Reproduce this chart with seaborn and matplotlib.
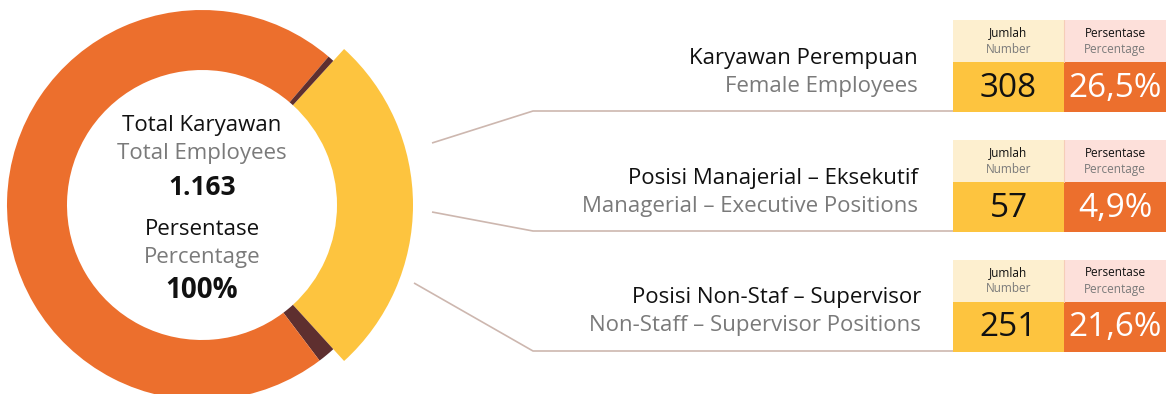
import matplotlib
matplotlib.use("Agg")
import matplotlib.pyplot as plt
from matplotlib.patches import Rectangle
import seaborn as sns

# ---------------- data ----------------
total_value = "1.163"
total_percent = "100%"
ring_names = ["Karyawan Perempuan", "Lainnya (bawah)", "Lainnya", "Lainnya (atas)"]
ring_values = [308, 17, 832, 6]
ring_colors = ["#FDC43F", "#5E2F2F", "#EC6F2D", "#5E2F2F"]

cat_id = ["Karyawan Perempuan", "Posisi Manajerial – Eksekutif", "Posisi Non-Staf – Supervisor"]
cat_en = ["Female Employees", "Managerial – Executive Positions", "Non-Staff – Supervisor Positions"]
counts = [308, 57, 251]
percents = ["26,5%", "4,9%", "21,6%"]

# ---------------- style ----------------
sns.set_theme(style="white")
plt.rcParams['font.family'] = ['Open Sans', 'DejaVu Sans']

BLACK = "#111111"
GRAY = "#7A7A7A"
YELLOW = "#FDC43F"
ORANGE = "#EC6F2D"
HEAD_Y = "#FDEFCF"
HEAD_P = "#FDE0DA"
LINE = "#CDB7AF"
FW = 500

fig = plt.figure(figsize=(11.66, 3.94), dpi=100)
ax = fig.add_axes([0, 0, 1, 1])

# ---------------- donut ----------------
cx, cy = 202, 205
R, W = 195, 60
start = -ring_values[0] / sum(ring_values) * 360 / 2
wedges, _ = ax.pie(ring_values, colors=ring_colors, startangle=start,
                   counterclock=True, radius=R, center=(cx, cy),
                   wedgeprops=dict(width=W, linewidth=0), frame=True)
wedges[0].set_radius(211)
wedges[0].set_width(211 - (R - W))

ax.set_xlim(0, 1166)
ax.set_ylim(394, 0)
ax.set_aspect('equal')
ax.axis('off')

# centre text
ax.text(cx, 125, "Total Karyawan", ha='center', va='center', fontsize=16, color=BLACK, fontweight=FW)
ax.text(cx, 153, "Total Employees", ha='center', va='center', fontsize=16, color=GRAY, fontweight=FW)
ax.text(cx, 187, total_value, ha='center', va='center', fontsize=19, color=BLACK, fontweight='bold')
ax.text(cx, 229, "Persentase", ha='center', va='center', fontsize=16, color=BLACK, fontweight=FW)
ax.text(cx, 258, "Percentage", ha='center', va='center', fontsize=16, color=GRAY, fontweight=FW)
ax.text(cx, 291, total_percent, ha='center', va='center', fontsize=20, color=BLACK, fontweight='bold')

# ---------------- right side ----------------
row_top = [20, 140, 260]
label_right = [918, 918, 921]
line_start = [(432, 143), (432, 212), (414, 283)]
kink_x = 533
tx0, tx1, tx2 = 953, 1064, 1166
head_h, val_h = 42, 50

for i in range(3):
    top = row_top[i]
    ax.text(label_right[i], top + 38, cat_id[i], ha='right', va='center', fontsize=16, color=BLACK, fontweight=FW)
    ax.text(label_right[i], top + 66, cat_en[i], ha='right', va='center', fontsize=16, color=GRAY, fontweight=FW)
    yline = top + head_h + val_h - 1
    sx, sy = line_start[i]
    ax.plot([sx, kink_x, tx0], [sy, yline, yline], color=LINE, lw=1.2, solid_capstyle='butt')
    # header cells
    ax.add_patch(Rectangle((tx0, top), tx1 - tx0, head_h, color=HEAD_Y, lw=0))
    ax.add_patch(Rectangle((tx1, top), tx2 - tx1, head_h, color=HEAD_P, lw=0))
    ax.plot([tx1, tx1], [top, top + head_h], color="#F6CDB8", lw=0.8)
    ax.text((tx0 + tx1) / 2, top + 13, "Jumlah", ha='center', va='center', fontsize=8.5, color=BLACK, fontweight=FW)
    ax.text((tx0 + tx1) / 2, top + 29, "Number", ha='center', va='center', fontsize=8.5, color=GRAY, fontweight=FW)
    ax.text((tx1 + tx2) / 2, top + 13, "Persentase", ha='center', va='center', fontsize=8.5, color=BLACK, fontweight=FW)
    ax.text((tx1 + tx2) / 2, top + 29, "Percentage", ha='center', va='center', fontsize=8.5, color=GRAY, fontweight=FW)
    # value cells
    ax.add_patch(Rectangle((tx0, top + head_h), tx1 - tx0, val_h, color=YELLOW, lw=0))
    ax.add_patch(Rectangle((tx1, top + head_h), tx2 - tx1, val_h, color=ORANGE, lw=0))
    ax.text((tx0 + tx1) / 2, top + head_h + val_h / 2 + 1, str(counts[i]), ha='center', va='center',
            fontsize=24, color=BLACK, fontweight=FW)
    ax.text((tx1 + tx2) / 2, top + head_h + val_h / 2 + 1, percents[i], ha='center', va='center',
            fontsize=24, color="white", fontweight=FW)

fig.savefig("out.png", dpi=100)
